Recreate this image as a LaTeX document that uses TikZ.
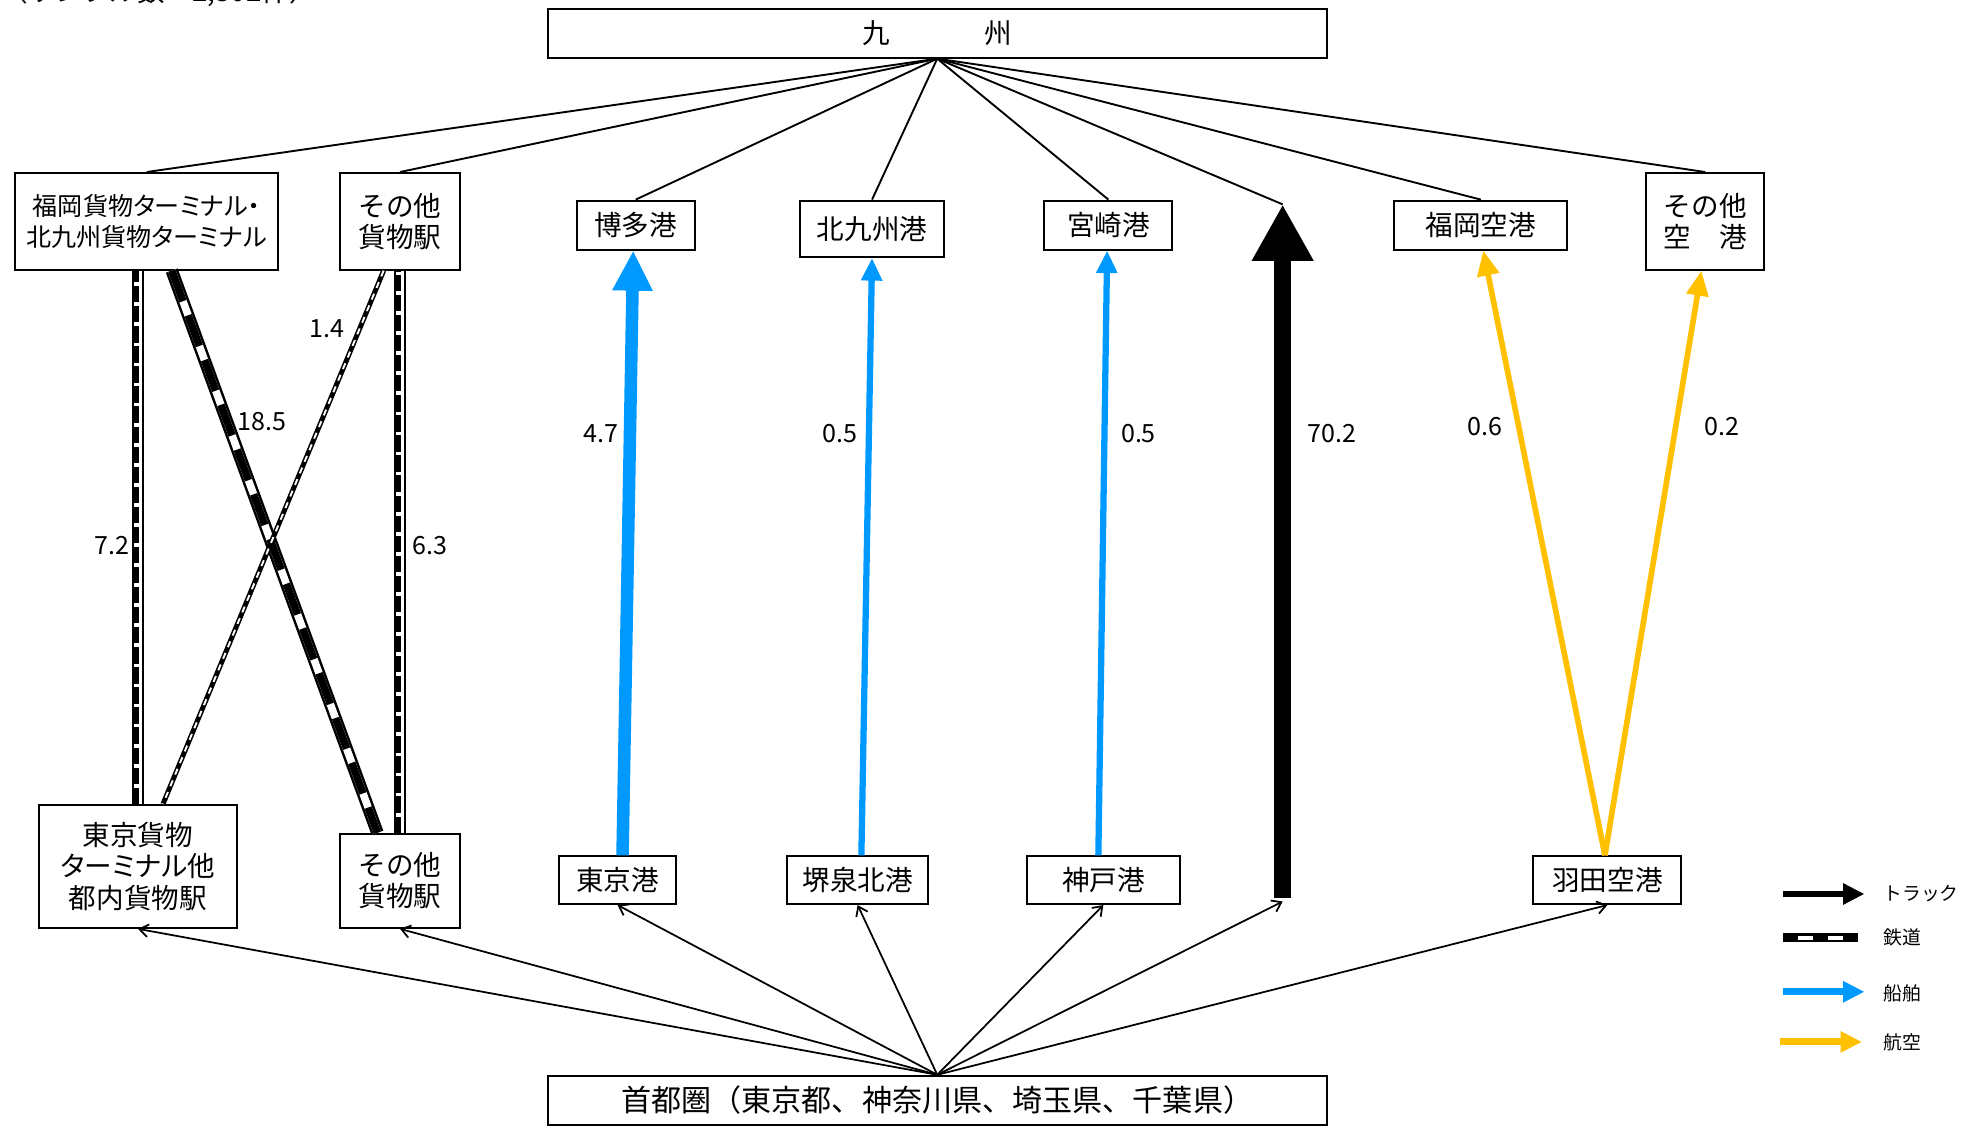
\documentclass[tikz,border=0pt]{standalone}
\usepackage{fontspec}
\setmainfont{Noto Sans CJK JP}
\newfontfamily\jpp[RawFeature=+palt]{Noto Sans CJK JP}
\usetikzlibrary{arrows.meta}
\definecolor{shipblue}{RGB}{0,153,255}
\definecolor{airgold}{RGB}{255,192,0}
\tikzset{
  box/.style={draw, line width=1.6pt, inner sep=0pt, align=center, font=\fontsize{22}{25}\selectfont},
  link/.style={line width=1.5pt},
  feed/.style={line width=1.4pt, -{Straight Barb[length=7pt,width=10pt,line width=1.4pt]}},
  val/.style={font=\fontsize{20}{22}\selectfont, inner sep=0pt},
  legtxt/.style={font=\fontsize{15}{18}\selectfont, inner sep=0pt, anchor=west},
  truck/.style={line width=14pt, -{Triangle[length=45pt,width=46pt]}},
  shipbig/.style={draw=shipblue, line width=10pt, -{Triangle[length=32pt,width=30pt]}},
  shipsm/.style={draw=shipblue, line width=5pt, -{Triangle[length=18pt,width=16pt]}},
  air/.style={draw=airgold, line width=4.5pt, -{Triangle[length=20pt,width=17pt]}},
  railout/.style={draw=black, line width=9pt, postaction={draw=white, line width=6pt}},
  raildash/.style={draw=black, line width=3.6pt, dash pattern=on 13pt off 3pt},
  railbig/.style={draw=black, line width=10pt, postaction={draw=white, line width=6pt},
                  postaction={draw=black, line width=6pt, dash pattern=on 26pt off 12pt}},
  railthin/.style={draw=black, line width=4pt, postaction={draw=white, line width=1.5pt, dash pattern=on 5pt off 5pt}},
  raillegend/.style={draw=black, line width=7pt, postaction={draw=white, line width=3.5pt},
                  postaction={draw=black, line width=7pt, dash pattern=on 12pt off 12pt}},
}
\begin{document}
\begin{tikzpicture}[x=1pt,y=-1pt]
\path[use as bounding box, fill=white] (0,0) rectangle (1568,900);

% clipped header text
\node[anchor=base west, inner sep=0pt, font=\fontsize{22}{24}\selectfont] (hdr) at (0,1.5) {（サンプル数：2,302件）};

% top nodes
\node[box, minimum width=621pt, minimum height=39pt] (kyushu) at (747.5,26.5) {九\hspace{76pt}州};
\node[box, minimum width=210pt, minimum height=77pt, font=\fontsize{20}{25}\selectfont] (fk) at (117,176.5) {\jpp 福岡貨物ターミナル・\\\jpp 北九州貨物ターミナル};
\node[box, minimum width=96pt, minimum height=77pt] (otT) at (319,176.5) {その他\\貨物駅};
\node[box, minimum width=94pt, minimum height=39pt] (hakata) at (507,179.5) {博多港};
\node[box, minimum width=115pt, minimum height=45pt] (kitaq) at (695.5,182.5) {北九州港};
\node[box, minimum width=102pt, minimum height=39pt] (miya) at (884,179.5) {宮崎港};
\node[box, minimum width=138pt, minimum height=39pt] (fkair) at (1181,179.5) {福岡空港};
\node[box, minimum width=94pt, minimum height=77pt] (otair) at (1360,176.5) {その他\\空　港};

% bottom nodes
\node[box, minimum width=158pt, minimum height=98pt] (tkfr) at (110,691) {東京貨物\\\jpp ターミナル他\\都内貨物駅};
\node[box, minimum width=96pt, minimum height=75pt] (otB) at (319,702.5) {その他\\貨物駅};
\node[box, minimum width=93pt, minimum height=38pt] (tkport) at (492.5,702) {東京港};
\node[box, minimum width=112pt, minimum height=38pt] (sakai) at (684,702) {堺泉北港};
\node[box, minimum width=122pt, minimum height=38pt] (kobe) at (880,702) {神戸港};
\node[box, minimum width=118pt, minimum height=38pt] (haneda) at (1282,702) {羽田空港};
\node[box, minimum width=621pt, minimum height=39pt, font=\fontsize{24}{26}\selectfont] (shuto) at (747.5,877.5) {首都圏（東京都、神奈川県、埼玉県、千葉県）};

% truck coordinates
\coordinate (trkTop) at (1023,163);
\coordinate (trkBot) at (1023,716);
\coordinate (trkFoot) at (1023,719);

% lines from Kyushu
\foreach \n in {fk,otT,hakata,kitaq,miya,fkair,otair}
  \draw[link] (kyushu.south) -- (\n.north);
\draw[link] (kyushu.south) -- (trkTop);

% feed arrows from Shutoken
\foreach \n in {tkfr,otB,tkport,sakai,kobe,haneda}
  \draw[feed] (shuto.north) -- (\n.south);
\draw[feed] (shuto.north) -- (trkFoot);

% rail
\draw[railout] (tkfr.north) -- (tkfr.north |- fk.south);
\draw[raildash] ([xshift=-1.2pt]tkfr.north) -- ([xshift=-1.2pt]tkfr.north |- fk.south);
\draw[railout] (otB.north) -- (otT.south);
\draw[raildash] ([xshift=-1.2pt]otB.north) -- ([xshift=-1.2pt]otT.south);
\draw[railbig] ([xshift=20pt]fk.south) -- ([xshift=-18pt]otB.north);
\draw[railthin] ([xshift=-13pt]otT.south) -- ([xshift=20pt]tkfr.north);

% ships
\draw[shipbig] ([xshift=4pt]tkport.north) -- ([xshift=-2pt]hakata.south);
\draw[shipsm] ([xshift=3pt]sakai.north) -- (kitaq.south);
\draw[shipsm] ([xshift=-4pt]kobe.north) -- ([xshift=-1pt]miya.south);

% truck
\draw[truck] (trkBot) -- (trkTop);

% air
\draw[air] ([xshift=-2pt]haneda.north) -- ([xshift=2pt]fkair.south);
\draw[air] ([xshift=-2pt]haneda.north) -- ([xshift=-3pt]otair.south);

% values
\node[val] (v72) at (89,435) {7.2};
\node[val] (v185) at (209,336) {18.5};
\node[val] (v14) at (261,262) {1.4};
\node[val] (v63) at (343,435) {6.3};
\node[val] (v47) at (479,346) {4.7};
\node[val] (v05a) at (670,346) {0.5};
\node[val] (v05b) at (908,346) {0.5};
\node[val] (v702) at (1062,346) {70.2};
\node[val] (v06) at (1184,340) {0.6};
\node[val] (v02) at (1373,340) {0.2};

% legend
\coordinate (lgTa) at (1422,713); \coordinate (lgTb) at (1487,713);
\coordinate (lgRa) at (1422,748); \coordinate (lgRb) at (1482,748);
\coordinate (lgSa) at (1422,791); \coordinate (lgSb) at (1487,791);
\coordinate (lgAa) at (1420,831); \coordinate (lgAb) at (1485,831);
\draw[line width=5.5pt, -{Triangle[length=17pt,width=16pt]}] (lgTa) -- (lgTb);
\draw[raillegend] (lgRa) -- (lgRb);
\draw[draw=shipblue, line width=5.5pt, -{Triangle[length=17pt,width=16pt]}] (lgSa) -- (lgSb);
\draw[draw=airgold, line width=5.5pt, -{Triangle[length=17pt,width=16pt]}] (lgAa) -- (lgAb);
\node[legtxt] (lT) at (1502,713) {トラック};
\node[legtxt] (lR) at (1502,748) {鉄道};
\node[legtxt] (lS) at (1502,792) {船舶};
\node[legtxt] (lA) at (1502,831) {航空};
\end{tikzpicture}
\end{document}
